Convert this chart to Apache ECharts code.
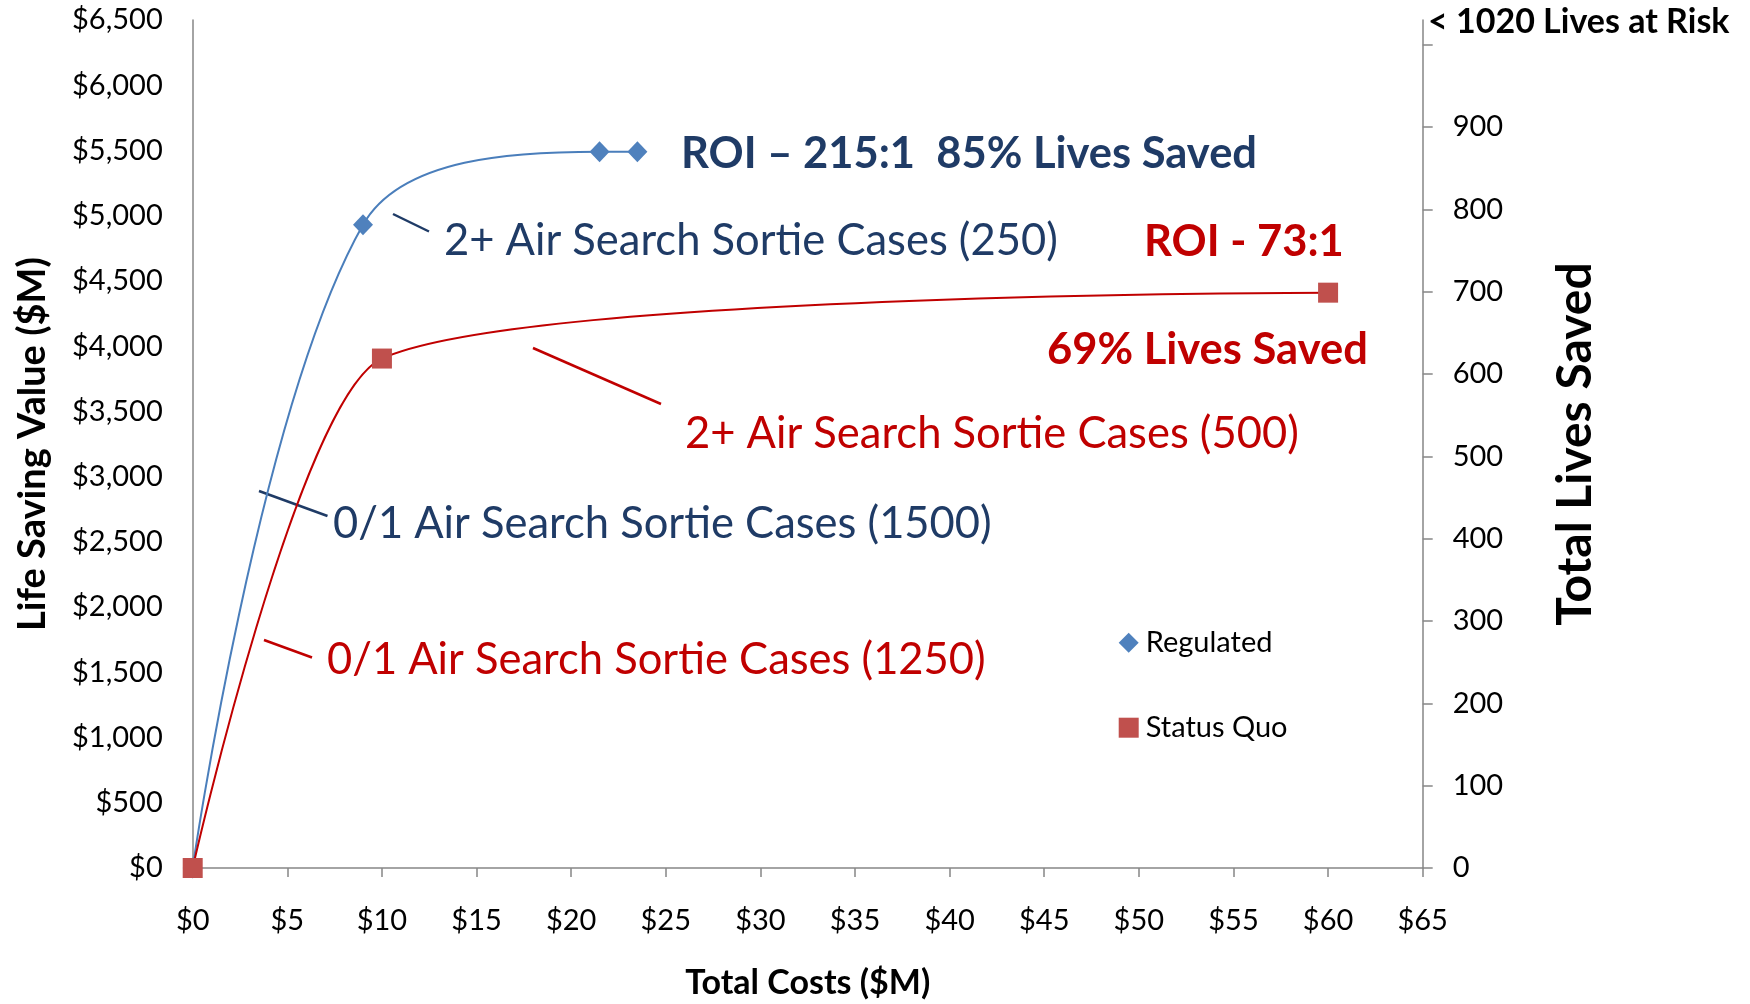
<!DOCTYPE html>
<html>
<head>
<meta charset="utf-8">
<script src="https://cdn.jsdelivr.net/npm/echarts@6/dist/echarts.min.js"></script>
<style>
html,body{margin:0;padding:0;background:#fff;}
#chart{width:1750px;height:1004px;}
</style>
</head>
<body>
<div id="chart"></div>
<script>
// ---- data ----
const regulatedCost = [0, 9, 21.5, 23.5];
const regulatedValue = [0, 4930, 5490, 5490];
const statusQuoCost = [0, 10, 60];
const statusQuoValue = [0, 3905, 4410];
const xTickValues = [0,5,10,15,20,25,30,35,40,45,50,55,60,65];
const leftTickValues = [0,500,1000,1500,2000,2500,3000,3500,4000,4500,5000,5500,6000,6500];
const rightTickValues = [0,100,200,300,400,500,600,700,800,900,1000];
const rightLabelValues = [0,100,200,300,400,500,600,700,800,900];

const FONT = 'Lato';
const NAVY = '#1F3B66';
const RED = '#C00000';

function money(v){ return '$' + Number(v).toLocaleString('en-US'); }

const chart = echarts.init(document.getElementById('chart'));
const option = {
  backgroundColor: '#fff',
  animation: false,
  textStyle: { fontFamily: FONT },
  grid: { left: 192.7, right: 327.3, top: 20, bottom: 136, containLabel: false, outerBoundsMode: 'none' },
  xAxis: {
    type: 'value', min: 0, max: 65, interval: 5,
    name: 'Total Costs ($M)', nameLocation: 'middle', nameGap: 98,
    nameTextStyle: { fontFamily: FONT, fontWeight: 'bold', fontSize: 34, color: '#000' },
    axisLine: { show: true, lineStyle: { color: '#868686', width: 1.5 } },
    axisTick: { show: true, length: 9, lineStyle: { color: '#868686', width: 1.5 } },
    splitLine: { show: false },
    axisLabel: { fontFamily: FONT, fontSize: 29, color: '#000', margin: 38, formatter: v => money(v) }
  },
  yAxis: [{
    type: 'value', min: 0, max: 6500, interval: 500, position: 'left',
    name: 'Life Saving Value ($M)', nameLocation: 'middle', nameGap: 141, nameRotate: 90,
    nameTextStyle: { fontFamily: FONT, fontWeight: 'bold', fontSize: 38, color: '#000' },
    axisLine: { show: true, lineStyle: { color: '#868686', width: 1.5 } },
    axisTick: { show: false },
    splitLine: { show: false },
    axisLabel: { fontFamily: FONT, fontSize: 29, color: '#000', margin: 30, formatter: v => money(v) }
  }, {
    type: 'value', min: 0, max: 1030, interval: 100, position: 'right',
    name: 'Total Lives Saved', nameLocation: 'middle', nameGap: 129, nameRotate: 90,
    nameTextStyle: { fontFamily: FONT, fontWeight: 'bold', fontSize: 48, color: '#000' },
    axisLine: { show: true, lineStyle: { color: '#868686', width: 1.5 } },
    axisTick: { show: true, length: 10, customValues: rightTickValues, lineStyle: { color: '#868686', width: 1.5 } },
    splitLine: { show: false },
    axisLabel: { fontFamily: FONT, fontSize: 29, color: '#000', margin: 30, customValues: rightLabelValues,
      formatter: v => (v <= 900 ? String(v) : '') }
  }],
  legend: [{
    orient: 'vertical', left: 1118.7, top: 627.7, itemWidth: 20, itemHeight: 20, padding: 0,
    data: [{ name: 'Regulated', icon: 'diamond' }],
    textStyle: { fontFamily: FONT, fontSize: 29, color: '#000', lineHeight: 30, padding: [0,0,0,2] }
  }, {
    orient: 'vertical', left: 1118.7, top: 712.7, itemWidth: 20, itemHeight: 20, padding: 0,
    data: [{ name: 'Status Quo', icon: 'rect' }],
    textStyle: { fontFamily: FONT, fontSize: 29, color: '#000', lineHeight: 30, padding: [0,0,0,2] }
  }],
  series: [{
    name: 'Regulated', type: 'line', smooth: 0.35,
    data: regulatedCost.map((c, i) => [c, regulatedValue[i]]),
    symbol: 'diamond', symbolSize: [20, 21],
    itemStyle: { color: '#4F81BD' },
    lineStyle: { color: '#4A7EBB', width: 2 },
    z: 2
  }, {
    name: 'Status Quo', type: 'line', smooth: 0.2,
    data: statusQuoCost.map((c, i) => [c, statusQuoValue[i]]),
    symbol: 'rect', symbolSize: 20,
    itemStyle: { color: '#C0504D' },
    lineStyle: { color: RED, width: 2 },
    z: 3
  }],
  graphic: [
    { type: 'text', x: 1428, y: 22, style: { text: '< 1020 Lives at Risk', font: 'bold 34px Lato', fill: '#000', verticalAlign: 'middle' } },
    { type: 'text', x: 681, y: 154, style: { text: 'ROI \u2013 215:1  85% Lives Saved', font: 'bold 43.5px Lato', fill: NAVY, verticalAlign: 'middle' } },
    { type: 'text', x: 444, y: 241, style: { text: '2+ Air Search Sortie Cases (250)', font: '43.5px Lato', fill: NAVY, verticalAlign: 'middle' } },
    { type: 'text', x: 1144, y: 242, style: { text: 'ROI - 73:1', font: 'bold 43.5px Lato', fill: RED, verticalAlign: 'middle' } },
    { type: 'text', x: 1047, y: 350, style: { text: '69% Lives Saved', font: 'bold 43.5px Lato', fill: RED, verticalAlign: 'middle' } },
    { type: 'text', x: 685, y: 434, style: { text: '2+ Air Search Sortie Cases (500)', font: '43.5px Lato', fill: RED, verticalAlign: 'middle' } },
    { type: 'text', x: 333, y: 524, style: { text: '0/1 Air Search Sortie Cases (1500)', font: '43.5px Lato', fill: NAVY, verticalAlign: 'middle' } },
    { type: 'text', x: 327, y: 660, style: { text: '0/1 Air Search Sortie Cases (1250)', font: '43.5px Lato', fill: RED, verticalAlign: 'middle' } },
    { type: 'line', shape: { x1: 393, y1: 214, x2: 429, y2: 231.5 }, style: { stroke: NAVY, lineWidth: 2.5 } },
    { type: 'line', shape: { x1: 533, y1: 348, x2: 661, y2: 404 }, style: { stroke: RED, lineWidth: 2.5 } },
    { type: 'line', shape: { x1: 259, y1: 491, x2: 327.5, y2: 516 }, style: { stroke: NAVY, lineWidth: 2.5 } },
    { type: 'line', shape: { x1: 264, y1: 640, x2: 312, y2: 657.5 }, style: { stroke: RED, lineWidth: 2.5 } }
  ]
};
chart.setOption(option);
</script>
</body>
</html>
